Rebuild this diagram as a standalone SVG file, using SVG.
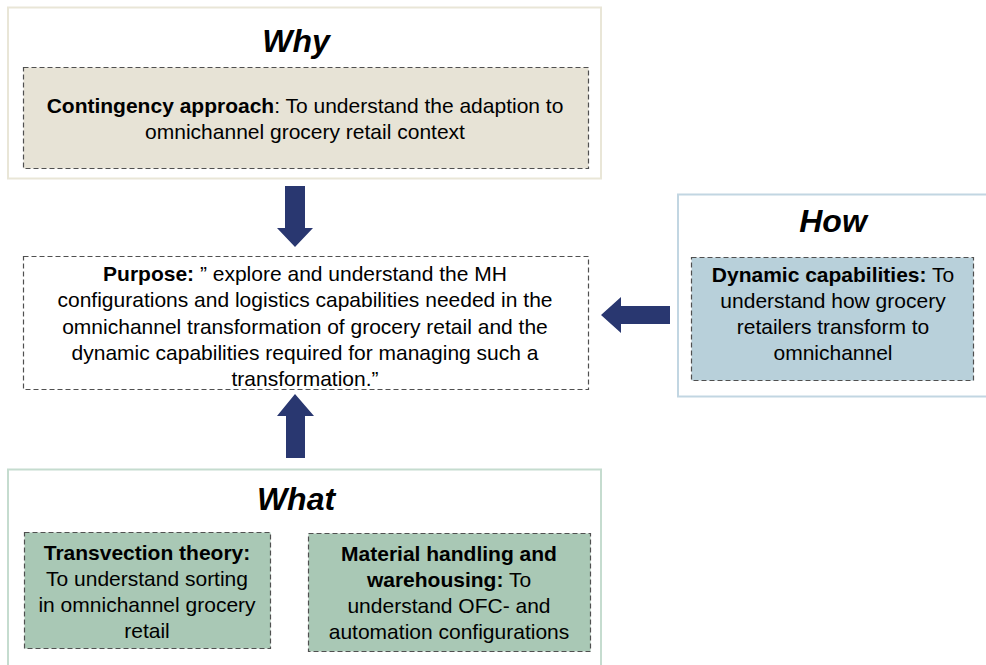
<svg xmlns="http://www.w3.org/2000/svg" width="986" height="665" viewBox="0 0 986 665">
<style>
text{font-family:"Liberation Sans",Arial,sans-serif;fill:#000;text-anchor:middle}
.t{font-size:32px;font-weight:bold;font-style:italic}
.b{font-size:21px}
.bold{font-weight:bold}
.dash{stroke:#505050;stroke-width:1.2;stroke-dasharray:5,3}
.arrow{fill:#293770}
</style>
<rect width="986" height="665" fill="#fff"/>
<g id="why">
<rect x="8" y="7.5" width="593" height="171" fill="#fff" stroke="#e9e6d7" stroke-width="2"/>
<text class="t" x="296" y="52">Why</text>
<rect x="23.5" y="67.5" width="565" height="101" fill="#e7e3d6" class="dash"/>
<text class="b" x="305" y="113"><tspan class="bold">Contingency  approach</tspan>: To understand the adaption to</text>
<text class="b" x="305" y="139">omnichannel grocery retail context</text>
</g>
<g id="purpose">
<rect x="23.5" y="256.5" width="565" height="133" fill="#fff" class="dash"/>
<text class="b" x="305" y="281"><tspan class="bold">Purpose:</tspan> ” explore and understand the MH</text>
<text class="b" x="305" y="307">configurations and logistics capabilities needed in the</text>
<text class="b" x="305" y="334">omnichannel transformation of grocery retail and the</text>
<text class="b" x="305" y="360">dynamic capabilities required for managing such a</text>
<text class="b" x="305" y="386">transformation.”</text>
</g>
<g id="how">
<rect x="678" y="194.5" width="312" height="202" fill="#fff" stroke="#c2d6e2" stroke-width="2"/>
<text class="t" x="833" y="232">How</text>
<rect x="691.5" y="257.5" width="282" height="123" fill="#b8d0da" class="dash"/>
<text class="b" x="833" y="282"><tspan class="bold">Dynamic capabilities:</tspan> To</text>
<text class="b" x="833" y="308">understand how grocery</text>
<text class="b" x="833" y="334">retailers transform to</text>
<text class="b" x="833" y="360">omnichannel</text>
</g>
<g id="what">
<rect x="8" y="469.5" width="593" height="205" fill="#fff" stroke="#c5dccf" stroke-width="2"/>
<text class="t" x="296" y="510">What</text>
<g id="transvection">
<rect x="24.5" y="532.5" width="246" height="116" fill="#a9c8b5" class="dash"/>
<text class="b" x="147" y="560"><tspan class="bold">Transvection theory:</tspan></text>
<text class="b" x="147" y="586">To understand sorting</text>
<text class="b" x="147" y="612">in omnichannel grocery</text>
<text class="b" x="147" y="638">retail</text>
</g>
<g id="material">
<rect x="308.5" y="533.5" width="282" height="118" fill="#a9c8b5" class="dash"/>
<text class="b" x="449" y="561"><tspan class="bold">Material handling and</tspan></text>
<text class="b" x="449" y="587"><tspan class="bold">warehousing:</tspan> To</text>
<text class="b" x="449" y="613">understand OFC- and</text>
<text class="b" x="449" y="639">automation configurations</text>
</g>
</g>
<g id="connectors">
<polygon class="arrow" points="285,186 305,186 305,228 313,228 295,247 277,228 285,228"/>
<polygon class="arrow" points="295,394 314,416 305,416 305,458 286,458 286,416 277,416"/>
<polygon class="arrow" points="601,315 621,297 621,306 670,306 670,324 621,324 621,333"/>
</g>
</svg>
